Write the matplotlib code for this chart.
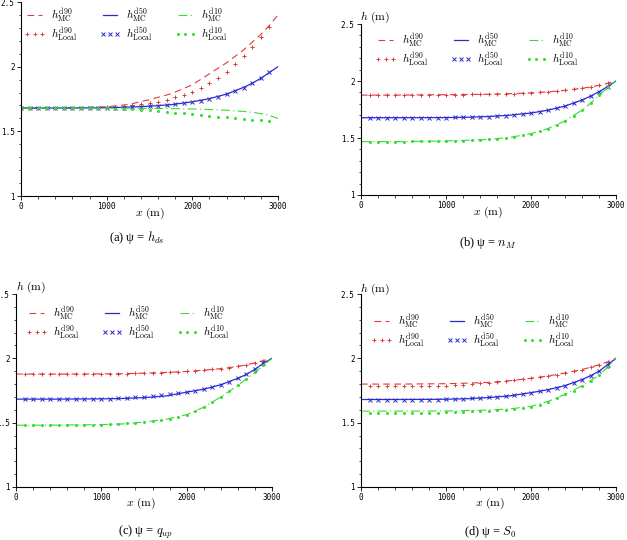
import matplotlib
matplotlib.use("Agg")
import matplotlib.pyplot as plt
import numpy as np

plt.rcParams['mathtext.fontset'] = 'cm'
plt.rcParams['font.family'] = ['Liberation Serif', 'DejaVu Serif']

# ---------------- data ----------------
x_mc = [0, 500, 1000, 1250, 1500, 1750, 2000, 2200, 2400, 2600, 2700, 2800, 2900, 3000]
x_loc_a = list(range(0, 3000, 100))      # 0 .. 2900
x_loc = list(range(100, 3000, 100))      # 100 .. 2900

# (a) psi = h_ds
a_mc_d90 = [1.68, 1.68, 1.69, 1.707, 1.745, 1.79, 1.86, 1.945, 2.03, 2.13, 2.19, 2.25, 2.32, 2.40]
a_mc_d50 = [1.68, 1.68, 1.682, 1.687, 1.694, 1.706, 1.728, 1.753, 1.788, 1.84, 1.872, 1.91, 1.955, 2.0]
a_mc_d10 = [1.68, 1.68, 1.68, 1.679, 1.678, 1.676, 1.673, 1.669, 1.663, 1.654, 1.647, 1.637, 1.622, 1.60]
a_lo_d90 = [1.68, 1.68, 1.68, 1.68, 1.68, 1.68, 1.68, 1.68, 1.682, 1.684, 1.686, 1.69, 1.695, 1.70, 1.71,
            1.72, 1.73, 1.745, 1.762, 1.78, 1.805, 1.835, 1.87, 1.915, 1.96, 2.02, 2.085, 2.15, 2.23, 2.31]
a_lo_d50 = [1.68, 1.68, 1.68, 1.68, 1.68, 1.68, 1.68, 1.68, 1.68, 1.68, 1.68, 1.682, 1.684, 1.687, 1.69,
            1.693, 1.698, 1.703, 1.71, 1.718, 1.727, 1.738, 1.752, 1.768, 1.787, 1.81, 1.838, 1.87, 1.91, 1.955]
a_lo_d10 = [1.68, 1.68, 1.68, 1.68, 1.68, 1.68, 1.68, 1.68, 1.68, 1.679, 1.677, 1.675, 1.673, 1.67, 1.667,
            1.663, 1.658, 1.652, 1.645, 1.64, 1.632, 1.625, 1.619, 1.613, 1.607, 1.60, 1.594, 1.589, 1.586, 1.583]

# (b) psi = n_M
b_mc_d90 = [1.876, 1.877, 1.88, 1.882, 1.884, 1.889, 1.896, 1.905, 1.918, 1.936, 1.948, 1.962, 1.98, 2.0]
b_mc_d50 = [1.678, 1.678, 1.679, 1.682, 1.688, 1.70, 1.719, 1.744, 1.78, 1.833, 1.867, 1.906, 1.95, 2.0]
b_mc_d10 = [1.468, 1.469, 1.474, 1.48, 1.488, 1.505, 1.538, 1.583, 1.65, 1.745, 1.805, 1.875, 1.94, 2.0]
b_lo_d90 = [1.876, 1.876, 1.876, 1.877, 1.877, 1.877, 1.878, 1.878, 1.879, 1.88, 1.88, 1.881, 1.882, 1.883,
            1.884, 1.886, 1.888, 1.89, 1.893, 1.896, 1.90, 1.905, 1.911, 1.918, 1.926, 1.936, 1.948, 1.962, 1.98]
b_lo_d50 = [1.678, 1.678, 1.678, 1.678, 1.678, 1.678, 1.678, 1.678, 1.678, 1.679, 1.68, 1.681, 1.683, 1.685,
            1.688, 1.692, 1.697, 1.703, 1.71, 1.719, 1.73, 1.744, 1.76, 1.78, 1.804, 1.833, 1.867, 1.906, 1.95]
b_lo_d10 = [1.468, 1.468, 1.468, 1.469, 1.469, 1.47, 1.471, 1.472, 1.473, 1.474, 1.476, 1.478, 1.481, 1.484,
            1.488, 1.494, 1.501, 1.51, 1.522, 1.538, 1.558, 1.583, 1.613, 1.65, 1.695, 1.745, 1.805, 1.875, 1.945]

# (c) psi = q_up
c_mc_d90 = [1.878, 1.878, 1.879, 1.881, 1.885, 1.89, 1.898, 1.908, 1.92, 1.937, 1.95, 1.965, 1.983, 2.0]
c_mc_d50 = [1.683, 1.683, 1.685, 1.688, 1.695, 1.707, 1.737, 1.76, 1.795, 1.845, 1.875, 1.915, 1.962, 2.0]
c_mc_d10 = [1.48, 1.481, 1.485, 1.49, 1.505, 1.525, 1.562, 1.62, 1.70, 1.79, 1.84, 1.89, 1.945, 2.0]
c_lo_d90 = [1.878, 1.878, 1.878, 1.878, 1.878, 1.878, 1.878, 1.879, 1.879, 1.879, 1.88, 1.881, 1.882, 1.883,
            1.885, 1.887, 1.889, 1.892, 1.895, 1.898, 1.903, 1.908, 1.914, 1.92, 1.928, 1.937, 1.95, 1.965, 1.983]
c_lo_d50 = [1.683, 1.683, 1.683, 1.683, 1.683, 1.683, 1.683, 1.683, 1.683, 1.685, 1.687, 1.69, 1.693, 1.697,
            1.701, 1.707, 1.713, 1.72, 1.728, 1.737, 1.748, 1.76, 1.776, 1.795, 1.818, 1.845, 1.875, 1.915, 1.962]
c_lo_d10 = [1.48, 1.48, 1.48, 1.481, 1.481, 1.482, 1.483, 1.483, 1.484, 1.485, 1.487, 1.49, 1.494, 1.499,
            1.505, 1.512, 1.52, 1.53, 1.543, 1.562, 1.59, 1.62, 1.66, 1.70, 1.745, 1.79, 1.84, 1.89, 1.945]

# (d) psi = S_0
d_mc_d90 = [1.80, 1.80, 1.803, 1.807, 1.813, 1.826, 1.845, 1.863, 1.886, 1.913, 1.93, 1.95, 1.972, 2.0]
d_mc_d50 = [1.68, 1.68, 1.682, 1.686, 1.695, 1.708, 1.733, 1.756, 1.788, 1.835, 1.865, 1.90, 1.95, 2.0]
d_mc_d10 = [1.59, 1.59, 1.591, 1.594, 1.598, 1.607, 1.627, 1.665, 1.72, 1.787, 1.825, 1.87, 1.93, 2.0]
d_lo_d90 = [1.783, 1.783, 1.783, 1.784, 1.784, 1.785, 1.785, 1.786, 1.786, 1.788, 1.79, 1.794, 1.80, 1.806,
            1.81, 1.818, 1.824, 1.832, 1.837, 1.845, 1.853, 1.863, 1.873, 1.885, 1.898, 1.912, 1.93, 1.95, 1.97]
d_lo_d50 = [1.68, 1.68, 1.68, 1.68, 1.68, 1.68, 1.68, 1.68, 1.68, 1.682, 1.684, 1.687, 1.69, 1.694,
            1.698, 1.703, 1.709, 1.715, 1.723, 1.733, 1.744, 1.756, 1.771, 1.788, 1.808, 1.835, 1.865, 1.90, 1.95]
d_lo_d10 = [1.578, 1.578, 1.578, 1.578, 1.578, 1.578, 1.578, 1.578, 1.578, 1.58, 1.582, 1.584, 1.587, 1.59,
            1.594, 1.598, 1.602, 1.607, 1.614, 1.624, 1.64, 1.663, 1.69, 1.72, 1.75, 1.785, 1.823, 1.868, 1.93]

xticks = [0, 1000, 2000, 3000]
xticklabels = ['0', '1000', '2000', '3000']
yticks = [1, 1.5, 2, 2.5]
yticklabels = ['1', '1.5', '2', '2.5']

labels = [r'$h^{\rm d90}_{\rm MC}$', r'$h^{\rm d90}_{\rm Local}$',
          r'$h^{\rm d50}_{\rm MC}$', r'$h^{\rm d50}_{\rm Local}$',
          r'$h^{\rm d10}_{\rm MC}$', r'$h^{\rm d10}_{\rm Local}$']
captions = ['(a) ψ = $h_{ds}$', '(b) ψ = $n_M$', '(c) ψ = $q_{up}$', '(d) ψ = $S_0$']

RED = '#e23a3a'
BLUE = '#2b2bd0'
GREEN = '#33dd33'

W, H = 627, 540
fig = plt.figure(figsize=(W / 100, H / 100), dpi=100)

def px_axes(l, t, r, b):
    return fig.add_axes([l / W, 1 - b / H, (r - l) / W, (b - t) / H])

panels = [
    dict(box=(21, 2, 278, 196), xl=x_loc_a,
         mc=(a_mc_d90, a_mc_d50, a_mc_d10), lo=(a_lo_d90, a_lo_d50, a_lo_d10),
         leg=(24, 6), xlab=(150, 213), cap=(137, 238), hlab=None),
    dict(box=(361, 24, 616, 195), xl=x_loc,
         mc=(b_mc_d90, b_mc_d50, b_mc_d10), lo=(b_lo_d90, b_lo_d50, b_lo_d10),
         leg=(375, 31), xlab=(488, 212), cap=(488, 243), hlab=(360, 17)),
    dict(box=(16, 294, 272, 487), xl=x_loc,
         mc=(c_mc_d90, c_mc_d50, c_mc_d10), lo=(c_lo_d90, c_lo_d50, c_lo_d10),
         leg=(26, 304), xlab=(141, 503), cap=(145, 532), hlab=(16, 287)),
    dict(box=(361, 294, 616, 487), xl=x_loc,
         mc=(d_mc_d90, d_mc_d50, d_mc_d10), lo=(d_lo_d90, d_lo_d50, d_lo_d10),
         leg=(371, 312), xlab=(490, 503), cap=(490, 532), hlab=(360, 289)),
]

for i, p in enumerate(panels):
    ax = px_axes(*p['box'])
    mc90, mc50, mc10 = p['mc']
    lo90, lo50, lo10 = p['lo']
    xl = p['xl']
    h1, = ax.plot(x_mc, mc90, color=RED, lw=0.8, dashes=(6, 4))
    h2, = ax.plot(xl, lo90, ls='none', marker='+', ms=3.5, mew=0.7, color=RED)
    h3, = ax.plot(x_mc, mc50, color=BLUE, lw=0.9)
    h4, = ax.plot(xl, lo50, ls='none', marker='x', ms=2.8, mew=0.7, color=BLUE)
    h5, = ax.plot(x_mc, mc10, color=GREEN, lw=0.8, dashes=(8, 3, 1, 3))
    h6, = ax.plot(xl, lo10, ls='none', marker='o', ms=2.2, mew=0, color=GREEN)
    ax.set_xlim(0, 3000)
    ax.set_ylim(1, 2.5)
    ax.set_xticks(xticks)
    ax.set_xticklabels(xticklabels)
    ax.set_yticks(yticks)
    ax.set_yticklabels(yticklabels)
    ax.set_xticks(np.arange(0, 3001, 200), minor=True)
    ax.set_yticks(np.arange(1, 2.51, 0.1), minor=True)
    for s in ('top', 'right'):
        ax.spines[s].set_visible(False)
    for s in ('left', 'bottom'):
        ax.spines[s].set_linewidth(0.8)
    ax.tick_params(which='major', length=3, width=0.6, labelsize=5.5, pad=1.5)
    ax.tick_params(which='minor', length=1.8, width=0.5)
    for lab in ax.get_xticklabels() + ax.get_yticklabels():
        lab.set_family('DejaVu Sans Mono')
    lx, ly = p['leg']
    ax.legend([h1, h2, h3, h4, h5, h6], labels, ncol=3, frameon=False,
              loc='upper left', bbox_to_anchor=(lx / W, 1 - ly / H),
              bbox_transform=fig.transFigure, fontsize=8, numpoints=3,
              handlelength=1.9, handletextpad=0.5, columnspacing=2.0,
              labelspacing=0.15, borderpad=0, borderaxespad=0)
    xx, xy = p['xlab']
    fig.text(xx / W, 1 - xy / H, r'$x\ \mathrm{(m)}$', ha='center', va='center', fontsize=8.5)
    cx, cy = p['cap']
    fig.text(cx / W, 1 - cy / H, captions[i], ha='center', va='center', fontsize=9)
    if p['hlab'] is not None:
        hx, hy = p['hlab']
        fig.text(hx / W, 1 - hy / H, r'$h\ \mathrm{(m)}$', ha='left', va='center', fontsize=8.5)

fig.savefig('out.png', dpi=100)
